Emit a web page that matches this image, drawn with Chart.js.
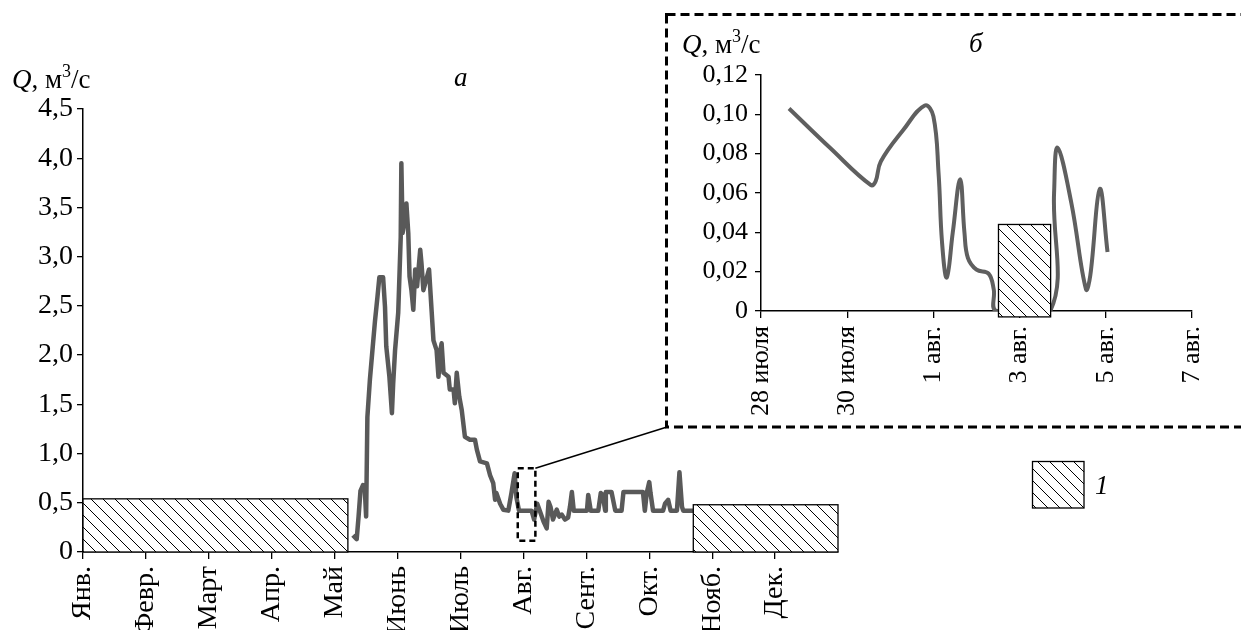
<!DOCTYPE html>
<html>
<head>
<meta charset="utf-8">
<script src="https://cdn.jsdelivr.net/npm/chart.js@4.4.0/dist/chart.umd.min.js"></script>
<style>
  body { margin: 0; background: #fff; }
  #wrap { position: relative; width: 1241px; height: 630px; overflow: hidden; }
  #main { position: absolute; left: 0; top: 0; }
  #inset { position: absolute; left: 670px; top: 20px; }
</style>
</head>
<body>
<div id="wrap">
  <canvas id="main" width="1241" height="630"></canvas>
  <canvas id="inset" width="571" height="405"></canvas>
</div>
<script>
// месяцы (ось а)
const months = ['Янв.', 'Февр.', 'Март', 'Апр.', 'Май', 'Июнь', 'Июль', 'Авг.', 'Сент.', 'Окт.', 'Нояб.', 'Дек.'];

// расход Q, м3/с, по времени в месяцах от 1 января
const mainT = [4.29, 4.35, 4.38, 4.41, 4.45, 4.48, 4.50, 4.52, 4.56, 4.61, 4.64, 4.68, 4.71, 4.77, 4.80, 4.82,
  4.87, 4.91, 4.93, 4.96, 5.01, 5.05, 5.06, 5.08, 5.12, 5.14, 5.17, 5.19, 5.22, 5.25, 5.28, 5.31,
  5.36, 5.38, 5.41, 5.47, 5.50, 5.54, 5.57, 5.62, 5.65, 5.68, 5.70, 5.73, 5.81, 5.83, 5.89, 5.91,
  5.94, 5.98, 6.02, 6.07, 6.15, 6.23, 6.26, 6.31, 6.42, 6.47, 6.52, 6.55, 6.57, 6.63, 6.68, 6.76,
  6.81, 6.86, 6.89, 6.93, 7.13, 7.17, 7.22, 7.26, 7.32, 7.37, 7.40, 7.43, 7.47, 7.53, 7.57, 7.61,
  7.66, 7.71, 7.74, 7.77, 7.80, 8.01, 8.03, 8.07, 8.19, 8.23, 8.26, 8.30, 8.31, 8.40, 8.46, 8.56,
  8.59, 8.90, 8.93, 8.96, 9.00, 9.02, 9.06, 9.22, 9.25, 9.30, 9.34, 9.44, 9.48, 9.52, 9.54, 9.70];
const mainQ = [0.17, 0.13, 0.36, 0.62, 0.68, 0.62, 0.36, 1.37, 1.75, 2.12, 2.34, 2.59, 2.79, 2.79, 2.49, 2.09,
  1.78, 1.41, 1.71, 2.05, 2.43, 3.20, 3.95, 3.24, 3.41, 3.54, 3.24, 2.80, 2.66, 2.46, 2.87, 2.70,
  3.07, 2.93, 2.66, 2.80, 2.87, 2.46, 2.15, 2.05, 1.78, 2.05, 2.12, 1.82, 1.78, 1.65, 1.65, 1.51,
  1.82, 1.58, 1.44, 1.17, 1.14, 1.14, 1.04, 0.92, 0.90, 0.78, 0.70, 0.53, 0.60, 0.49, 0.43, 0.42,
  0.60, 0.80, 0.55, 0.42, 0.42, 0.33, 0.49, 0.42, 0.31, 0.24, 0.51, 0.46, 0.33, 0.43, 0.36, 0.38,
  0.33, 0.35, 0.46, 0.61, 0.42, 0.42, 0.58, 0.42, 0.42, 0.60, 0.58, 0.42, 0.61, 0.61, 0.42, 0.42,
  0.61, 0.61, 0.42, 0.60, 0.71, 0.60, 0.42, 0.42, 0.49, 0.53, 0.42, 0.42, 0.81, 0.46, 0.42, 0.42];

// периоды 1 (x0, x1, y0, y1)
const mainBoxes = [[0, 4.21, 0, 0.54], [9.70, 12, 0, 0.48]];
// рамка увеличенного участка
const zoomFrame = [6.91, 7.19, 0.115, 0.85];

// врезка б: сутки от 28 июля
const insetLabels = ['28 июля', '30 июля', '1 авг.', '3 авг.', '5 авг.', '7 авг.'];
const insetT = [0.65, 1.6, 2.55, 2.66, 2.78, 3.3, 3.8, 4.0, 4.12, 4.2, 4.31, 4.45, 4.62, 4.72, 4.8, 5.0, 5.28, 5.4, 5.46,
  6.71, 6.8, 6.88, 7.2, 7.54, 7.64, 7.86, 8.04];
const insetQ = [0.103, 0.083, 0.064, 0.066, 0.076, 0.092, 0.1045, 0.099, 0.07, 0.035, 0.017, 0.04, 0.067, 0.04, 0.027, 0.021, 0.019, 0.011, 0.0,
  0.0, 0.06, 0.083, 0.055, 0.011, 0.018, 0.062, 0.03];
const insetBoxes = [[5.51, 6.72, -0.003, 0.044]];

const serif = 'Liberation Serif, Times New Roman, serif';

function makeHatch(s) {
  const c = document.createElement('canvas');
  c.width = c.height = s;
  const g = c.getContext('2d');
  g.fillStyle = '#fff';
  g.fillRect(0, 0, s, s);
  g.strokeStyle = '#000';
  g.lineWidth = 1;
  g.beginPath();
  g.moveTo(0, 0); g.lineTo(s, s);
  g.moveTo(-1, s - 1); g.lineTo(1, s + 1);
  g.moveTo(s - 1, -1); g.lineTo(s + 1, 1);
  g.stroke();
  return g.createPattern(c, 'repeat');
}

function hatchRect(ctx, x0, y0, x1, y1) {
  ctx.save();
  ctx.fillStyle = makeHatch(12);
  ctx.fillRect(x0, y0, x1 - x0, y1 - y0);
  ctx.strokeStyle = '#000';
  ctx.lineWidth = 1.3;
  ctx.strokeRect(x0, y0, x1 - x0, y1 - y0);
  ctx.restore();
}

function drawQ(ctx, x, y) {
  ctx.save();
  ctx.fillStyle = '#000';
  ctx.textBaseline = 'alphabetic';
  ctx.font = 'italic 27px ' + serif;
  ctx.fillText('Q', x, y);
  x += ctx.measureText('Q').width;
  ctx.font = '27px ' + serif;
  ctx.fillText(', м', x, y);
  x += ctx.measureText(', м').width;
  ctx.font = '18px ' + serif;
  ctx.fillText('3', x, y - 11);
  x += ctx.measureText('3').width;
  ctx.font = '27px ' + serif;
  ctx.fillText('/с', x, y);
  ctx.restore();
}

const boxesPlugin = {
  id: 'boxes',
  afterDatasetsDraw(chart, args, opts) {
    const { ctx, scales: { x, y } } = chart;
    (opts.list || []).forEach(b => {
      hatchRect(ctx, x.getPixelForValue(b[0]), y.getPixelForValue(b[3]),
        x.getPixelForValue(b[1]), y.getPixelForValue(b[2]));
    });
  }
};

const decorPlugin = {
  id: 'decor',
  afterDraw(chart) {
    const { ctx, scales: { x, y } } = chart;
    ctx.save();
    // пунктирная рамка на графике а
    const fx0 = x.getPixelForValue(zoomFrame[0]), fx1 = x.getPixelForValue(zoomFrame[1]);
    const fy0 = y.getPixelForValue(zoomFrame[3]), fy1 = y.getPixelForValue(zoomFrame[2]);
    ctx.strokeStyle = '#000';
    ctx.lineWidth = 2.5;
    ctx.setLineDash([6, 4]);
    ctx.strokeRect(fx0, fy0, fx1 - fx0, fy1 - fy0);
    // рамка врезки
    ctx.lineWidth = 3;
    ctx.setLineDash([9, 5]);
    ctx.strokeRect(666.5, 14.5, 600, 412.5);
    // выноска
    ctx.setLineDash([]);
    ctx.lineWidth = 1.5;
    ctx.beginPath();
    ctx.moveTo(fx1, fy0);
    ctx.lineTo(667, 427);
    ctx.stroke();
    ctx.restore();

    // легенда
    hatchRect(ctx, 1032.5, 461.5, 1084, 508);
    ctx.save();
    ctx.fillStyle = '#000';
    ctx.font = 'italic 27px ' + serif;
    ctx.fillText('1', 1095, 494);
    ctx.fillText('а', 454, 86);
    ctx.fillText('б', 969, 52);
    ctx.restore();
    drawQ(ctx, 12, 88);
    drawQ(ctx, 682, 53);
  }
};

new Chart(document.getElementById('main'), {
  type: 'line',
  data: {
    datasets: [{
      data: mainT.map((t, i) => ({ x: t, y: mainQ[i] })),
      borderColor: '#595959',
      borderWidth: 4.5,
      borderJoinStyle: 'round',
      pointRadius: 0,
      tension: 0
    }]
  },
  options: {
    responsive: false,
    animation: false,
    layout: { padding: { top: 109, right: 403, left: 0, bottom: 0 } },
    plugins: { legend: { display: false }, tooltip: { enabled: false }, boxes: { list: mainBoxes } },
    scales: {
      x: {
        type: 'linear', min: 0, max: 12,
        afterBuildTicks: s => { s.ticks = months.map((m, i) => ({ value: i })); },
        afterFit: s => { s.height = 78; },
        ticks: { callback: v => months[v], autoSkip: false, maxRotation: 90, minRotation: 90, color: '#000', font: { family: serif, size: 28 }, padding: 7 },
        grid: { drawOnChartArea: false, color: '#000', tickLength: 7, lineWidth: 1.3 },
        border: { color: '#000', width: 1.5 }
      },
      y: {
        min: 0, max: 4.5,
        afterFit: s => { s.width = 83; },
        ticks: { stepSize: 0.5, callback: v => v === 0 ? '0' : v.toFixed(1).replace('.', ','), color: '#000', font: { family: serif, size: 28 }, padding: 4 },
        grid: { drawOnChartArea: false, color: '#000', tickLength: 6, lineWidth: 1.3 },
        border: { color: '#000', width: 1.5 }
      }
    }
  },
  plugins: [boxesPlugin, decorPlugin]
});

new Chart(document.getElementById('inset'), {
  type: 'line',
  data: {
    datasets: [{
      data: insetT.map((t, i) => ({ x: t, y: insetQ[i] })),
      borderColor: '#5f5f5f',
      borderWidth: 4,
      pointRadius: 0,
      tension: 0.4
    }]
  },
  options: {
    responsive: false,
    animation: false,
    layout: { padding: { top: 55, right: 49, left: 0, bottom: 0 } },
    plugins: { legend: { display: false }, tooltip: { enabled: false }, boxes: { list: insetBoxes } },
    scales: {
      x: {
        type: 'linear', min: 0, max: 10,
        afterBuildTicks: s => { s.ticks = insetLabels.map((l, i) => ({ value: i * 2 })); },
        afterFit: s => { s.height = 114; },
        ticks: { callback: v => insetLabels[v / 2], autoSkip: false, maxRotation: 90, minRotation: 90, color: '#000', font: { family: serif, size: 26 }, padding: 8 },
        grid: { drawOnChartArea: false, color: '#000', tickLength: 7, lineWidth: 1.3 },
        border: { color: '#000', width: 1.5 }
      },
      y: {
        min: 0, max: 0.12,
        afterFit: s => { s.width = 91; },
        ticks: { stepSize: 0.02, callback: v => v === 0 ? '0' : v.toFixed(2).replace('.', ','), color: '#000', font: { family: serif, size: 26 }, padding: 7 },
        grid: { drawOnChartArea: false, color: '#000', tickLength: 6, lineWidth: 1.3 },
        border: { color: '#000', width: 1.5 }
      }
    }
  },
  plugins: [boxesPlugin]
});
</script>
</body>
</html>
